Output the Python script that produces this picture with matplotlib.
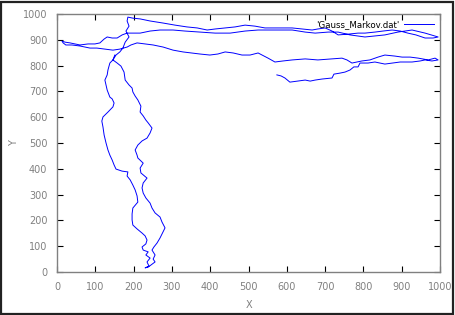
"""
Gauss-Markov mobility trace, redrawn in gnuplot style.
"""

import matplotlib
matplotlib.use("Agg")
import matplotlib.pyplot as plt
from matplotlib.patches import Rectangle

# trace (x, y in metres)
x_vals = [
    574, 585, 595, 608, 627, 648, 661, 674, 692, 718, 723, 739, 752, 765, 775, 786, 791,
    812, 830, 856, 875, 896, 927, 948, 961, 979, 995,
    987, 969, 943, 922, 901, 882, 856, 838, 817, 796, 770, 757, 744, 718, 681, 648, 614,
    590, 569, 551, 525, 504, 483, 460, 439, 420, 399, 373, 352, 329, 303, 277, 251, 230,
    209, 193, 183, 164, 146, 125, 104, 86, 60, 39, 23, 16,
    13, 21, 34, 47, 60, 81, 99, 112, 123, 131, 144, 157, 170, 183,
    217, 243, 269, 303, 334, 373, 413, 452, 491, 525, 569, 614, 648, 674, 708, 734, 765,
    804, 830, 856, 890, 927, 961, 995,
    982, 961, 937, 916, 896, 875, 851, 830, 804, 786, 760, 734, 718, 700, 681, 666, 640,
    614, 582, 543, 517, 491, 465, 439, 413, 392, 366, 339, 308, 277, 243, 217, 198, 185,
    183, 188, 180, 188, 178, 172, 164, 154, 146, 157,
    167, 175, 178, 188, 196, 198, 204, 211, 219, 217, 225, 232, 238, 248, 243, 235, 222,
    211, 204, 209, 211, 225, 217, 219, 235, 225, 222, 225, 232, 243, 248, 256, 269, 274,
    282, 274, 269, 261, 253, 248, 256, 251, 256, 245, 238, 230, 240,
    235, 243, 232, 238, 225, 222, 232, 235, 230, 222, 209, 198, 196, 196, 198, 211, 209,
    204, 198, 191, 183, 185, 170, 154, 149, 144, 138, 133, 128, 123, 120, 117, 120, 133,
    146, 149, 144, 138, 131, 128, 125, 131, 133, 138, 146, 151,
]
y_vals = [
    764, 760, 752, 736, 740, 744, 740, 744, 748, 752, 767, 771, 775, 783, 795, 795, 810,
    810, 814, 806, 810, 814, 814, 818, 822, 818, 822,
    829, 822, 829, 833, 833, 837, 841, 833, 822, 818, 810, 822, 829, 826, 822, 826, 822,
    818, 814, 829, 849, 841, 841, 849, 853, 845, 841, 845, 849, 853, 860, 872, 880, 884,
    888, 880, 872, 864, 860, 864, 868, 868, 876, 880, 880, 888,
    895, 891, 888, 884, 880, 884, 884, 888, 903, 911, 907, 907, 919, 926,
    926, 934, 938, 938, 934, 930, 926, 926, 934, 938, 938, 938, 930, 926, 930, 930, 919,
    911, 915, 919, 930, 938, 926, 911,
    907, 907, 919, 926, 934, 938, 934, 930, 926, 926, 922, 919, 934, 946, 942, 938, 942,
    946, 946, 946, 953, 957, 950, 946, 942, 938, 946, 950, 957, 965, 973, 981, 984, 988,
    973, 953, 934, 911, 891, 868, 853, 841, 822, 810,
    798, 775, 744, 725, 713, 698, 682, 667, 643, 620, 605, 589, 578, 558, 539, 519, 508,
    492, 473, 453, 442, 422, 403, 384, 364, 345, 326, 306, 287, 267, 248, 229, 213, 194,
    171, 147, 132, 112, 97, 85, 66, 50, 39, 27, 19, 16, 23,
    39, 54, 66, 78, 85, 97, 109, 124, 140, 151, 167, 182, 202, 225, 248, 271, 295,
    318, 337, 357, 372, 388, 391, 399, 415, 434, 453, 473, 500, 531, 562, 585, 601, 620,
    640, 655, 671, 678, 705, 725, 744, 764, 783, 810, 822, 841,
]

x_ticks = list(range(0, 1001, 100))
y_ticks = list(range(0, 1001, 100))
series_name = "'Gauss_Markov.dat'"

grey = "#808080"

fig = plt.figure(figsize=(4.55, 3.15), dpi=100)
ax = fig.add_axes([0.1253, 0.1365, 0.8418, 0.819])

ax.plot(x_vals, y_vals, color="#0000ff", linewidth=0.7, label=series_name)

ax.set_xlim(0, 1000)
ax.set_ylim(0, 1000)
ax.set_xticks(x_ticks)
ax.set_yticks(y_ticks)
ax.tick_params(direction="in", length=4, width=0.8, top=True, right=True,
               labelsize=7, colors="black", labelcolor=grey, pad=7)
for side in ax.spines.values():
    side.set_color(grey)
    side.set_linewidth(1.0)

ax.set_xlabel("X", color=grey, fontsize=7, labelpad=6)
ax.set_ylabel("Y", color=grey, fontsize=7, labelpad=3)

ax.legend(loc="upper right", frameon=False, markerfirst=False, fontsize=6.2,
          handlelength=3.4, borderaxespad=0.35, handletextpad=0.6)

# outer frame around the whole picture
fig.patches.append(Rectangle((0.003, 0.004), 0.993, 0.99, transform=fig.transFigure,
                             fill=False, edgecolor="#222222", linewidth=1.6))

plt.savefig("out.png", dpi=100)
plt.close()
